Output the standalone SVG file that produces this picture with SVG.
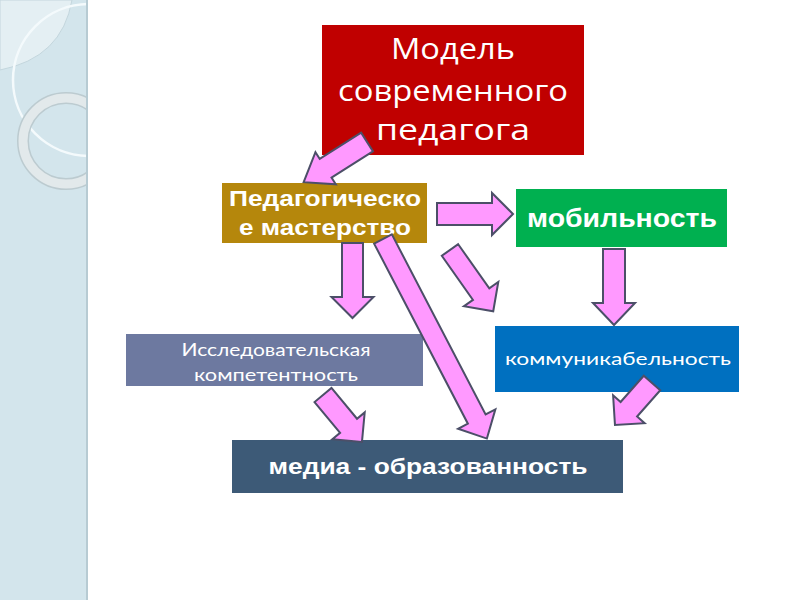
<svg xmlns="http://www.w3.org/2000/svg" width="800" height="600" viewBox="0 0 800 600">
<defs>
<style>
.box text{fill:#ffffff;text-anchor:middle}
.sans{font-family:"Open Sans","Liberation Sans",sans-serif}
.bold{font-family:"Liberation Sans","DejaVu Sans",sans-serif;font-weight:bold}
.light{font-family:Lato,"Open Sans",sans-serif}
.arr polygon{fill:#ff99ff;stroke:#4c4f68;stroke-width:2;stroke-linejoin:miter}
</style>
<clipPath id="strip"><rect x="0" y="0" width="88" height="600"/></clipPath>
</defs>
<rect x="0" y="0" width="800" height="600" fill="#ffffff"/>
<g id="sidebar" clip-path="url(#strip)">
<rect x="0" y="0" width="88" height="600" fill="#d3e5ec"/>
<path d="M0,0 H72 Q62,58 0,70 Z" fill="#e4eff3" stroke="#c3d6dd" stroke-width="1"/>
<circle cx="89" cy="80" r="76" fill="none" stroke="#f4fafc" stroke-width="2.5"/>
<circle cx="66" cy="141" r="43" fill="none" stroke="#bccbd0" stroke-width="12"/>
<circle cx="66" cy="141" r="43" fill="none" stroke="#e2e9eb" stroke-width="9"/>
<rect x="86" y="0" width="2" height="600" fill="#b7cbd3"/>
</g>
<g id="n-model" class="box">
<rect x="322" y="25" width="262" height="130" fill="#c00000"/>
<text class="sans" font-size="29" x="453" y="59" textLength="124" lengthAdjust="spacingAndGlyphs">Модель</text>
<text class="sans" font-size="29" x="453" y="101" textLength="230" lengthAdjust="spacingAndGlyphs">современного</text>
<text class="sans" font-size="29" x="453" y="140" textLength="154" lengthAdjust="spacingAndGlyphs">педагога</text>
</g>
<g id="n-master" class="box">
<rect x="222" y="183" width="205" height="60" fill="#b5870c"/>
<text class="bold" font-size="22" x="325" y="206" textLength="192" lengthAdjust="spacingAndGlyphs">Педагогическо</text>
<text class="bold" font-size="22" x="325" y="235" textLength="172" lengthAdjust="spacingAndGlyphs">е мастерство</text>
</g>
<g id="n-mob" class="box">
<rect x="516" y="189" width="211" height="58" fill="#00b050"/>
<text class="bold" font-size="25" x="622" y="227" textLength="190" lengthAdjust="spacingAndGlyphs">мобильность</text>
</g>
<g id="n-research" class="box">
<rect x="126" y="334" width="297" height="52" fill="#6d79a0"/>
<text class="light" font-size="17" x="276" y="356" textLength="189" lengthAdjust="spacingAndGlyphs">Исследовательская</text>
<text class="light" font-size="17" x="276" y="381" textLength="164" lengthAdjust="spacingAndGlyphs">компетентность</text>
</g>
<g id="n-comm" class="box">
<rect x="495" y="326" width="244" height="66" fill="#0070c0"/>
<text class="light" font-size="18" x="618" y="365" textLength="226" lengthAdjust="spacingAndGlyphs">коммуникабельность</text>
</g>
<g id="n-media" class="box">
<rect x="232" y="440" width="391" height="53" fill="#3d5a77"/>
<text class="bold" font-size="22" x="428" y="474" textLength="319" lengthAdjust="spacingAndGlyphs">медиа - образованность</text>
</g>
<g id="connectors" class="arr">
<polygon transform="translate(367,142) rotate(147.6)" points="0,-11 49,-11 49,-19 75,0 49,19 49,11 0,11"/>
<polygon transform="translate(437,214)" points="0,-11 55,-11 55,-21 76,0 55,21 55,11 0,11"/>
<polygon transform="translate(450,250) rotate(54.8)" points="0,-10 54,-10 54,-21 75,0 54,21 54,10 0,10"/>
<polygon transform="translate(352.5,243) rotate(90)" points="0,-10.5 54,-10.5 54,-21 75,0 54,21 54,10.5 0,10.5"/>
<polygon transform="translate(383,239) rotate(62.5)" points="0,-10 203,-10 203,-21 225,0 203,21 203,10 0,10"/>
<polygon transform="translate(614,249) rotate(90)" points="0,-11 54,-11 54,-21 76,0 54,21 54,11 0,11"/>
<polygon transform="translate(323,395) rotate(50.3)" points="0,-11 40,-11 40,-21 61,0 40,21 40,11 0,11"/>
<polygon transform="translate(652,383) rotate(131.4)" points="0,-11 35,-11 35,-21 56,0 35,21 35,11 0,11"/>
</g>
</svg>
